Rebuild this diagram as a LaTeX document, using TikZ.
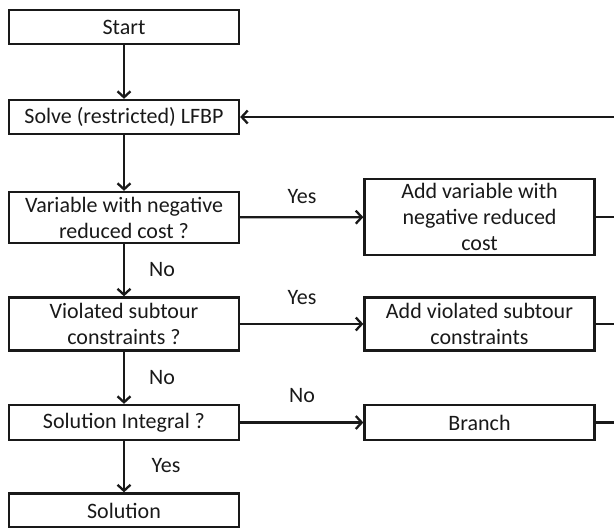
\documentclass[tikz,border=0pt]{standalone}
\usepackage{fontspec}
\setmainfont{Carlito}
\usetikzlibrary{arrows.meta}
\begin{document}
\begin{tikzpicture}[x=1pt,y=-1pt,
  box/.style={draw=black!90, line width=2.3pt, inner sep=0pt, minimum width=230pt, align=center, text=black!90, font=\fontsize{22}{26}\selectfont},
  conn/.style={line width=2.3pt, draw=black!90, -{Straight Barb[length=6pt,width=13pt,line width=2.3pt]}},
  plain/.style={line width=2.3pt, draw=black!90},
  lbl/.style={text=black!90, font=\fontsize{22}{26}\selectfont, inner sep=0pt}]
\useasboundingbox (0,0) rectangle (614,528);
\node[box, minimum height=34pt] (start) at (124,27) {Start};
\node[box, minimum height=34pt] (solve) at (124,117) {Solve (restricted) LFBP};
\node[box, minimum height=51pt] (var) at (124,217.5) {Variable with negative\\reduced cost ?};
\node[box, minimum height=76pt] (addvar) at (479.5,217) {Add variable with\\negative reduced\\cost};
\node[box, minimum height=53pt] (viol) at (124,324) {Violated subtour\\constraints ?};
\node[box, minimum height=53pt] (addviol) at (479.5,324) {Add violated subtour\\constraints};
\node[box, minimum height=35pt] (integ) at (124,422.5) {Solution Integral ?};
\node[box, minimum height=35pt] (branch) at (479.5,422.5) {Branch};
\node[box, minimum height=34pt] (sol) at (124,510.5) {Solution};
\coordinate (rtop) at (615.5,117);
\coordinate (r1) at (615.5,217);
\coordinate (r2) at (615.5,324);
\coordinate (r3) at (615.5,422.5);
\draw[conn] (start) -- (solve);
\draw[conn] (solve) -- (var);
\draw[conn] (var) -- (viol);
\draw[conn] (viol) -- (integ);
\draw[conn] (integ) -- (sol);
\draw[conn] (var) -- (addvar);
\draw[conn] (viol) -- (addviol);
\draw[conn] (integ) -- (branch);
\draw[plain] (addvar) -- (r1);
\draw[plain] (addviol) -- (r2);
\draw[plain] (branch) -- (r3);
\draw[plain] (r3) -- (rtop);
\draw[conn] (rtop) -- (solve);
\node[lbl] (l1) at (302,197) {Yes};
\node[lbl] (l2) at (302,298) {Yes};
\node[lbl] (l3) at (302,396) {No};
\node[lbl] (l4) at (162,270) {No};
\node[lbl] (l5) at (162,378) {No};
\node[lbl] (l6) at (166,466) {Yes};
\end{tikzpicture}
\end{document}
